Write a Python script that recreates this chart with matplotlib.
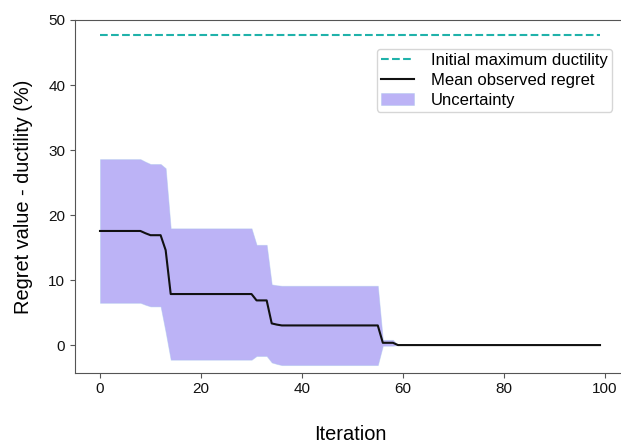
import numpy as np
import matplotlib
matplotlib.use("Agg")
import matplotlib.pyplot as plt

plt.rcParams['font.family'] = ['Liberation Sans', 'DejaVu Sans']

# ---- data ----
iterations = list(range(100))
mean_regret = ([17.55] * 9 + [17.2] + [16.9] * 3 + [14.6] + [7.85] * 17 +
               [6.87] * 3 + [3.33] + [3.15] + [3.02] * 20 + [0.35] * 3 + [0.0] * 41)
std_regret = ([11.05] * 9 + [11.0] + [10.95] * 3 + [12.6] + [10.1] * 17 +
              [8.55] * 3 + [6.0] + [6.05] + [6.1] * 20 + [0.45] * 3 + [0.0] * 41)
initial_max_ductility = 47.7

x = np.array(iterations)
m = np.array(mean_regret)
s = np.array(std_regret)

fig = plt.figure(figsize=(6.21, 4.45), dpi=100)
ax = fig.add_axes([75 / 621, 1 - 372.7 / 445, 550 / 621, (372.7 - 20) / 445])

ax.plot(x, [initial_max_ductility] * len(x), linestyle='--', color='lightseagreen',
        lw=1.5, label='Initial maximum ductility')
ax.plot(x, m, color='#111111', lw=1.5, label='Mean observed regret')
ax.fill_between(x, m - s, m + s, facecolor='mediumslateblue', alpha=0.5,
                edgecolor='#a9c4ee', linewidth=0.6, label='Uncertainty')

ax.set_xlim(-4.95, 103.95)
ax.set_ylim(-4.25, 50)
ax.set_xticks([0, 20, 40, 60, 80, 100])
ax.set_yticks([0, 10, 20, 30, 40, 50])
ax.tick_params(labelsize=11, color='#555555', labelcolor='#111111')
for sp in ax.spines.values():
    sp.set_color('#555555')

ax.set_xlabel('Iteration', fontsize=14.4, labelpad=20.5)
ax.set_ylabel('Regret value - ductility (%)', fontsize=14.4, labelpad=11)

leg = ax.legend(loc='upper right', bbox_to_anchor=(537 / 550, 1 - 29 / 352.7),
                fontsize=12, labelspacing=0.28, borderpad=0.25, handletextpad=1.0,
                borderaxespad=0, fancybox=True)

fig.savefig('out.png', dpi=100)
